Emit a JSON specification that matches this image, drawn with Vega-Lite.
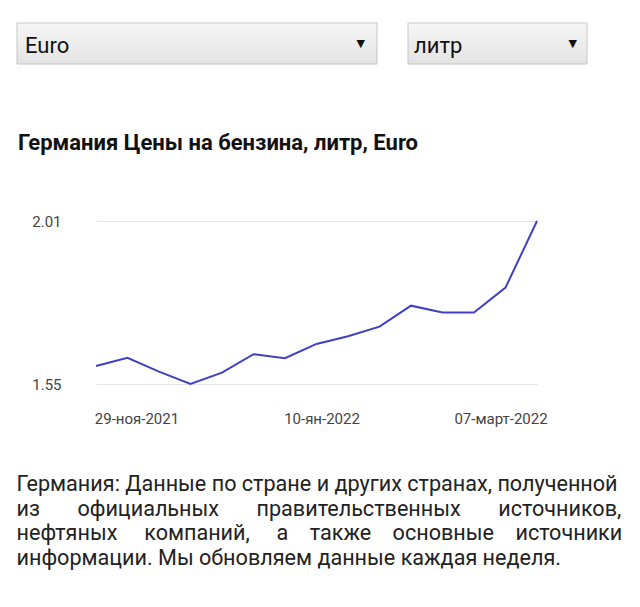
{
  "$schema": "https://vega.github.io/schema/vega-lite/v6.json",
  "padding": {"left": 16, "top": 22, "right": 0, "bottom": 0},
  "background": "white",
  "config": {"font": "Roboto", "view": {"stroke": null}},
  "title": {
    "text": [
      "Германия: Данные по стране и других странах, полученной",
      "из\u00a0\u00a0\u00a0\u00a0\u00a0\u00a0\u00a0официальных\u00a0\u00a0\u00a0\u00a0\u00a0\u00a0\u00a0правительственных\u00a0\u00a0\u00a0\u00a0\u00a0\u00a0\u00a0источников,",
      "нефтяных\u00a0\u00a0\u00a0\u00a0\u00a0компаний,\u00a0\u00a0\u00a0\u00a0\u00a0а\u00a0\u00a0\u00a0\u00a0также\u00a0\u00a0\u00a0\u00a0основные\u00a0\u00a0\u00a0\u00a0источники",
      "информации. Мы обновляем данные каждая неделя."
    ],
    "orient": "bottom",
    "anchor": "start",
    "frame": "bounds",
    "font": "Roboto",
    "fontSize": 21.6,
    "fontWeight": "normal",
    "color": "#222222",
    "lineHeight": 24.5,
    "baseline": "alphabetic",
    "offset": 65
  },
  "spacing": 67,
  "vconcat": [
    {
      "spacing": 29,
      "hconcat": [
        {
          "width": 360,
          "height": 41,
          "data": {"values": [{"role": "label", "text": "Euro"}, {"role": "arrow", "text": "▼"}]},
          "layer": [
            {
              "transform": [{"filter": "datum.role == 'label'"}],
              "mark": {
                "type": "rect",
                "fill": {"gradient": "linear", "x1": 0, "y1": 0, "x2": 0, "y2": 1, "stops": [{"offset": 0, "color": "#f6f6f6"}, {"offset": 1, "color": "#e3e3e3"}]},
                "stroke": "#c6c6c6",
                "strokeWidth": 1
              },
              "encoding": {}
            },
            {
              "transform": [{"filter": "datum.role == 'label'"}],
              "mark": {"type": "text", "align": "left", "baseline": "middle", "fontSize": 22, "font": "Roboto", "color": "#111111", "dy": 2},
              "encoding": {
                "x": {"field": "role", "type": "nominal", "scale": {"type": "point", "domain": ["label", "arrow"], "padding": 0.0232}, "axis": null},
                "text": {"field": "text"}
              }
            },
            {
              "transform": [{"filter": "datum.role == 'arrow'"}],
              "mark": {"type": "text", "align": "right", "baseline": "middle", "fontSize": 11, "font": "DejaVu Sans", "color": "#111111", "dx": -4},
              "encoding": {
                "x": {"field": "role", "type": "nominal", "scale": {"type": "point", "domain": ["label", "arrow"], "padding": 0.0232}, "axis": null},
                "text": {"field": "text"}
              }
            }
          ]
        },
        {
          "width": 179,
          "height": 41,
          "data": {"values": [{"role": "label", "text": "литр"}, {"role": "arrow", "text": "▼"}]},
          "layer": [
            {
              "transform": [{"filter": "datum.role == 'label'"}],
              "mark": {
                "type": "rect",
                "fill": {"gradient": "linear", "x1": 0, "y1": 0, "x2": 0, "y2": 1, "stops": [{"offset": 0, "color": "#f6f6f6"}, {"offset": 1, "color": "#e3e3e3"}]},
                "stroke": "#c6c6c6",
                "strokeWidth": 1
              },
              "encoding": {}
            },
            {
              "transform": [{"filter": "datum.role == 'label'"}],
              "mark": {"type": "text", "align": "left", "baseline": "middle", "fontSize": 22, "font": "Roboto", "color": "#111111", "dy": 2},
              "encoding": {
                "x": {"field": "role", "type": "nominal", "scale": {"type": "point", "domain": ["label", "arrow"], "padding": 0.0357}, "axis": null},
                "text": {"field": "text"}
              }
            },
            {
              "transform": [{"filter": "datum.role == 'arrow'"}],
              "mark": {"type": "text", "align": "right", "baseline": "middle", "fontSize": 11, "font": "DejaVu Sans", "color": "#111111", "dx": -4},
              "encoding": {
                "x": {"field": "role", "type": "nominal", "scale": {"type": "point", "domain": ["label", "arrow"], "padding": 0.0357}, "axis": null},
                "text": {"field": "text"}
              }
            }
          ]
        }
      ]
    },
    {
      "spacing": 0,
      "hconcat": [
        {
          "width": 1,
          "height": 1,
          "data": {"values": [{"text": ""}]},
          "mark": {"type": "text", "opacity": 0},
          "encoding": {"text": {"field": "text"}}
        },
        {
          "width": 441,
          "height": 163,
          "title": {
            "text": "Германия Цены на бензина, литр, Euro",
            "anchor": "start",
            "frame": "bounds",
            "font": "Roboto",
            "fontSize": 22,
            "fontWeight": "bold",
            "color": "#111111",
            "baseline": "alphabetic",
            "offset": 42
          },
          "data": {
            "values": [
              {"date": "22-ноя-2021", "price": 1.601},
              {"date": "29-ноя-2021", "price": 1.624},
              {"date": "06-дек-2021", "price": 1.585},
              {"date": "13-дек-2021", "price": 1.55},
              {"date": "20-дек-2021", "price": 1.582},
              {"date": "27-дек-2021", "price": 1.634},
              {"date": "03-ян-2022", "price": 1.623},
              {"date": "10-ян-2022", "price": 1.663},
              {"date": "17-ян-2022", "price": 1.685},
              {"date": "24-ян-2022", "price": 1.712},
              {"date": "31-ян-2022", "price": 1.771},
              {"date": "07-фев-2022", "price": 1.752},
              {"date": "21-фев-2022", "price": 1.752},
              {"date": "07-март-2022", "price": 1.822},
              {"date": "14-март-2022", "price": 2.01}
            ]
          },
          "mark": {"type": "line", "color": "#4040c0", "strokeWidth": 2},
          "encoding": {
            "x": {
              "field": "date",
              "type": "nominal",
              "sort": null,
              "scale": {"type": "point", "padding": 0},
              "axis": {
                "values": ["29-ноя-2021", "10-ян-2022", "07-март-2022"],
                "title": null,
                "domain": false,
                "ticks": false,
                "grid": false,
                "labelAngle": 0,
                "labelPadding": 27,
                "labelFontSize": 15,
                "labelFont": "Roboto",
                "labelColor": "#444444",
                "labelOffset": {
                  "condition": [
                    {"test": "datum.value == '29-ноя-2021'", "value": 9},
                    {"test": "datum.value == '10-ян-2022'", "value": 5},
                    {"test": "datum.value == '07-март-2022'", "value": -5}
                  ],
                  "value": 0
                }
              }
            },
            "y": {
              "field": "price",
              "type": "quantitative",
              "scale": {"domain": [1.55, 2.01], "nice": false, "zero": false},
              "axis": {
                "values": [1.55, 2.01],
                "format": ".2f",
                "title": null,
                "grid": true,
                "gridColor": "#e4e4e4",
                "domain": false,
                "ticks": false,
                "labelPadding": 35,
                "labelFontSize": 15,
                "labelFont": "Roboto",
                "labelColor": "#444444",
                "minExtent": 78
              }
            }
          }
        }
      ]
    }
  ]
}
